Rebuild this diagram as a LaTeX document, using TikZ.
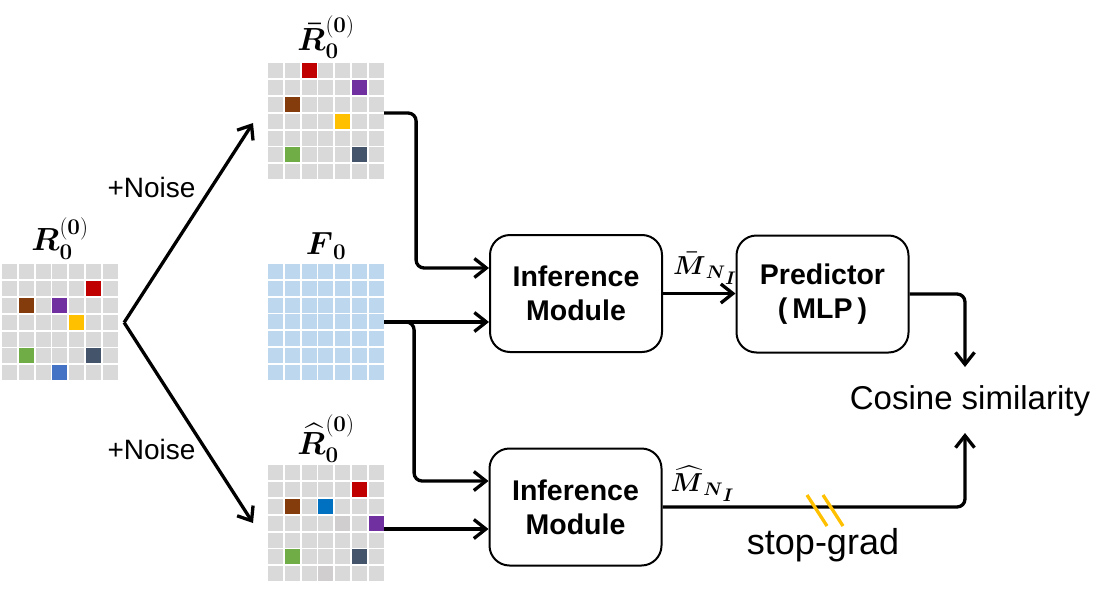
\RequirePackage{fix-cm}
\documentclass[tikz,border=0pt]{standalone}
\usepackage{amsmath}
\usepackage{amssymb}
\usepackage[no-math]{fontspec}
\setmainfont{Liberation Sans}
\usepackage{tikz}
\usetikzlibrary{arrows.meta,%
                positioning}

\definecolor{CellGray}{HTML}{D9D9D9}
\definecolor{CellDim}{HTML}{D0CECE}
\definecolor{CellBlue}{HTML}{BDD7EE}
\definecolor{CellRed}{HTML}{C00000}
\definecolor{CellBrown}{HTML}{843C0C}
\definecolor{CellPurple}{HTML}{7030A0}
\definecolor{CellYellow}{HTML}{FFC000}
\definecolor{CellGreen}{HTML}{70AD47}
\definecolor{CellSlate}{HTML}{44546A}
\definecolor{CellSky}{HTML}{4472C4}
\definecolor{CellAzure}{HTML}{0070C0}
\definecolor{CutOrange}{HTML}{FFC000}

\newcommand{\Patch}[4]{\fill[#4] ([shift={(#2*16.8,#3*16.8)}]#1.north west) rectangle ++(15,15);}

\begin{document}
\begin{tikzpicture}[x=1pt,y=-1pt]
		\tikzstyle{GridStyle}=[minimum size=115.8pt,inner sep=0pt]
		\tikzstyle{LabelStyle}=[inner sep=0pt,font=\fontsize{32}{36}\selectfont]
		\tikzstyle{ModuleStyle}=[draw,line width=2pt,rounded corners=20pt,minimum width=172pt,minimum height=117pt,align=center,font=\bfseries\fontsize{28.5}{34}\selectfont]
		\tikzstyle{TextStyle}=[inner sep=0pt]
		\tikzstyle{post}=[-{Straight Barb[length=12pt,width=19pt]},line width=3.3pt]
		\tikzstyle{CutStyle}=[CutOrange,line width=3.3pt]
		\useasboundingbox (0,0) rectangle (1110,589);
		% grids
		\node[GridStyle] (R0) at (60,322.5) {};
		\node[GridStyle] (Rbar) at (326,121.5) {};
		\node[GridStyle] (F0) at (326,322) {};
		\node[GridStyle] (Rhat) at (326,523.5) {};
		\foreach \g in {R0,Rbar,Rhat}{
			\foreach \cx in {0,...,6}{
				\foreach \ry in {0,...,6}{\Patch{\g}{\cx}{\ry}{CellGray}}}}
		\foreach \cx in {0,...,6}{
			\foreach \ry in {0,...,6}{\Patch{F0}{\cx}{\ry}{CellBlue}}}
		\foreach \cx/\ry/\col in {5/1/CellRed,1/2/CellBrown,3/2/CellPurple,4/3/CellYellow,1/5/CellGreen,5/5/CellSlate,3/6/CellSky}{
			\Patch{R0}{\cx}{\ry}{\col}}
		\foreach \cx/\ry/\col in {2/0/CellRed,5/1/CellPurple,1/2/CellBrown,4/3/CellYellow,1/5/CellGreen,5/5/CellSlate}{
			\Patch{Rbar}{\cx}{\ry}{\col}}
		\foreach \cx/\ry/\col in {5/1/CellRed,1/2/CellBrown,3/2/CellAzure,4/3/CellDim,6/3/CellPurple,1/5/CellGreen,5/5/CellSlate,3/6/CellDim}{
			\Patch{Rhat}{\cx}{\ry}{\col}}
		\node[LabelStyle,above=5pt of R0] (lR0) {$\boldsymbol{R}_{\mathbf{0}}^{\mathbf{(0)}}$};
		\node[LabelStyle,above=5pt of Rbar] (lRbar) {$\boldsymbol{\bar{R}}_{\mathbf{0}}^{\mathbf{(0)}}$};
		\node[LabelStyle,above=4pt of F0] (lF0) {$\boldsymbol{F}_{\mathbf{0}}$};
		\node[LabelStyle,above=3pt of Rhat] (lRhat) {$\boldsymbol{\widehat{R}}_{\mathbf{0}}^{\mathbf{(0)}}$};
		% modules
		\node[ModuleStyle] (infA) at (576,293.5) {Inference\\Module};
		\node[ModuleStyle] (infB) at (575.5,507) {Inference\\Module};
		\node[ModuleStyle] (pred) at (822.5,294) {Predictor\\(\kern5pt MLP\kern5pt)};
		\node[TextStyle,font=\fontsize{33}{40}\selectfont] (cos) at (970,400.5) {Cosine similarity};
		% noise branches
		\coordinate (split) at ([xshift=6pt]R0.east);
		\coordinate (noiseUp) at (253,123);
		\coordinate (noiseDn) at (253,523);
		\draw[post] (split) -- (noiseUp);
		\draw[post] (split) -- (noiseDn);
		\node[TextStyle,font=\fontsize{28}{34}\selectfont] (nUp) at (151.5,187) {+Noise};
		\node[TextStyle,font=\fontsize{28}{34}\selectfont] (nDn) at (151.5,449) {+Noise};
		% into the modules
		\coordinate (barOut) at ([yshift=8.5pt]Rbar.east);
		\coordinate (hatOut) at ([yshift=-5.5pt]Rhat.east);
		\draw[post,rounded corners=8pt] (barOut) -- ++(32,0) |- ([yshift=25.5pt]infA.west);
		\draw[post] (F0.east) -- (F0.east -| infA.west);
		\draw[post,rounded corners=8pt] (F0.east) -- ++(30,0) |- ([yshift=26pt]infB.west);
		\draw[post] (hatOut) -- (hatOut -| infB.west);
		\draw[post] (infA.east) -- (infA.east -| pred.west);
		\node[LabelStyle,font=\fontsize{26}{30}\selectfont,above right=9pt and 10pt of infA.east] (lMbar) {$\boldsymbol{\bar{M}}_{\boldsymbol{N}_{\scriptstyle\boldsymbol{I}}}$};
		% to the similarity
		\coordinate (cosTop) at (965,367);
		\coordinate (cosBot) at (965,433);
		\draw[post,rounded corners=8pt] (pred.east) -| (cosTop);
		\draw[post,rounded corners=8pt] (infB.east) -| (cosBot);
		\node[LabelStyle,font=\fontsize{26}{30}\selectfont,above right=5pt and 8pt of infB.east] (lMhat) {$\boldsymbol{\widehat{M}}_{\boldsymbol{N}_{\scriptstyle\boldsymbol{I}}}$};
		% stop-grad
		\coordinate (cut) at (825,509);
		\draw[CutStyle] ([xshift=-18pt,yshift=14pt]cut) -- ++(20,31);
		\draw[CutStyle] ([xshift=-2pt,yshift=14pt]cut) -- ++(20,31);
		\node[TextStyle,font=\fontsize{36}{42}\selectfont] (sg) at (823,545) {stop-grad};
	\end{tikzpicture}
\end{document}
